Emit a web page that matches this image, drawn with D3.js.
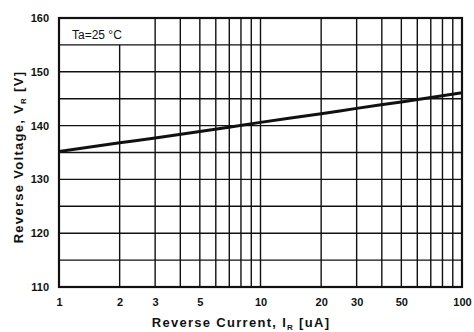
<!DOCTYPE html>
<html>
<head>
<meta charset="utf-8">
<script src="https://cdn.jsdelivr.net/npm/d3@7"></script>
<style>
  html, body { margin: 0; padding: 0; background: #fff; }
  svg { display: block; }
  text { font-family: "Liberation Sans", Arial, Helvetica, sans-serif; fill: #111; }
</style>
</head>
<body>
<svg id="chart" width="474" height="332"></svg>
<script>
// Reverse voltage vs reverse current at Ta = 25 °C
const currentUA = [1, 2, 3, 5, 10, 20, 30, 50, 100];
const voltageV  = [135.2, 136.8, 137.7, 138.9, 140.6, 142.2, 143.2, 144.4, 146.1];

const xTickValues = [1, 2, 3, 5, 10, 20, 30, 50, 100];
const xGridValues = [1, 2, 3, 4, 5, 6, 7, 8, 9, 10, 20, 30, 40, 50, 60, 70, 80, 90, 100];
const yTickValues = [110, 120, 130, 140, 150, 160];
const yGridValues = [110, 115, 120, 125, 130, 135, 140, 145, 150, 155, 160];

const W = 474, H = 332;
const margin = { top: 18, right: 12, bottom: 45, left: 59 };

const svg = d3.select("#chart");
const x = d3.scaleLog().domain([1, 100]).range([margin.left, W - margin.right]);
const y = d3.scaleLinear().domain([110, 160]).range([H - margin.bottom, margin.top]);

const grid = svg.append("g").attr("stroke", "#111").attr("stroke-width", 1.4);

// horizontal grid
grid.selectAll("line.h").data(yGridValues).join("line")
  .attr("class", "h")
  .attr("x1", x(1)).attr("x2", x(100))
  .attr("y1", d => y(d)).attr("y2", d => y(d));

// vertical grid (the line at 2 leaves room for the temperature note in the top row)
grid.selectAll("line.v").data(xGridValues).join("line")
  .attr("class", "v")
  .attr("x1", d => x(d)).attr("x2", d => x(d))
  .attr("y1", d => d === 2 ? y(155) : y(160))
  .attr("y2", y(110));

// frame
svg.append("rect")
  .attr("x", x(1)).attr("y", y(160))
  .attr("width", x(100) - x(1)).attr("height", y(110) - y(160))
  .attr("fill", "none").attr("stroke", "#111").attr("stroke-width", 2.2);

// characteristic curve
const pts = currentUA.map((c, i) => [c, voltageV[i]]);
svg.append("path")
  .datum(pts)
  .attr("fill", "none")
  .attr("stroke", "#111")
  .attr("stroke-width", 3)
  .attr("d", d3.line().x(d => x(d[0])).y(d => y(d[1])).curve(d3.curveMonotoneX));

// axes (labels only, frame drawn above)
const xAxis = d3.axisBottom(x).tickValues(xTickValues).tickFormat(d3.format("d")).tickSize(0).tickPadding(11);
const gx = svg.append("g").attr("transform", `translate(0,${y(110)})`).call(xAxis);
gx.select(".domain").remove();
gx.selectAll("text").attr("font-size", 11).attr("font-weight", "bold")
  .style("font-family", "'Liberation Sans', Arial, sans-serif").attr("fill", "#111");

const yAxis = d3.axisLeft(y).tickValues(yTickValues).tickFormat(d3.format("d")).tickSize(0).tickPadding(10);
const gy = svg.append("g").attr("transform", `translate(${x(1)},0)`).call(yAxis);
gy.select(".domain").remove();
gy.selectAll("text").attr("font-size", 11).attr("font-weight", "bold")
  .style("font-family", "'Liberation Sans', Arial, sans-serif").attr("fill", "#111");

// temperature note
svg.append("text")
  .attr("x", 72).attr("y", 39)
  .attr("font-size", 12)
  .text("Ta=25 °C");

// x title
const xt = svg.append("text")
  .attr("x", 241).attr("y", 327)
  .attr("text-anchor", "middle")
  .attr("font-size", 13).attr("font-weight", "bold")
  .attr("letter-spacing", 1.3);
xt.append("tspan").text("Reverse Current, I");
xt.append("tspan").attr("font-size", 8).attr("dy", 3).text("R");
xt.append("tspan").attr("dy", -3).text(" [uA]");

// y title
const yt = svg.append("text")
  .attr("transform", `translate(23,${157}) rotate(-90)`)
  .attr("text-anchor", "middle")
  .attr("font-size", 13).attr("font-weight", "bold")
  .attr("letter-spacing", 1.3);
yt.append("tspan").text("Reverse Voltage, V");
yt.append("tspan").attr("font-size", 8).attr("dy", 3).text("R");
yt.append("tspan").attr("dy", -3).text(" [V]");
</script>
</body>
</html>
